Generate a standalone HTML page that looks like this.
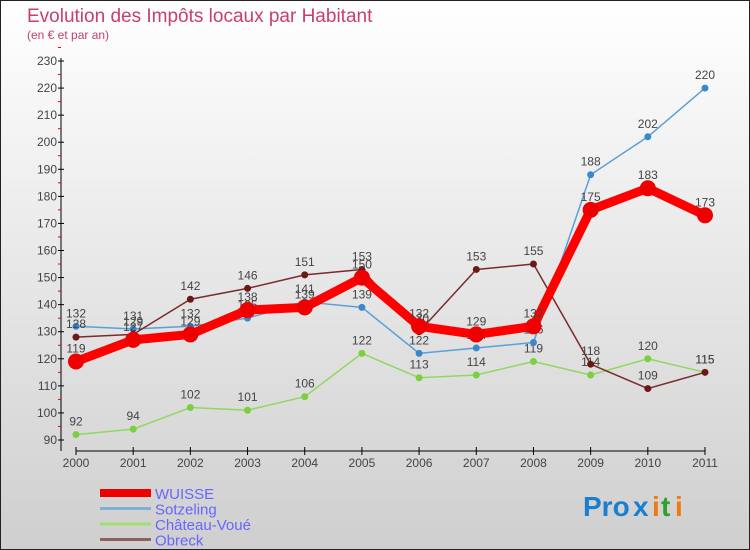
<!DOCTYPE html>
<html><head><meta charset="utf-8"><style>
body{margin:0;}
#c{width:750px;height:550px;position:relative;overflow:hidden;}
svg text{font-family:"Liberation Sans",sans-serif;}
</style></head><body>
<div id="c">
<svg id="s" width="750" height="550" xmlns="http://www.w3.org/2000/svg">
<defs><linearGradient id="bg" x1="0" y1="0" x2="0" y2="1"><stop offset="0" stop-color="#ffffff"/><stop offset="1" stop-color="#cfcfcf"/></linearGradient></defs>
<rect x="0.5" y="0.5" width="749" height="549" fill="url(#bg)" stroke="#222"/>
<text x="27" y="22" font-size="19" fill="#c8406a">Evolution des Impôts locaux par Habitant</text>
<text x="27" y="39" font-size="12" fill="#c8406a">(en € et par an)</text>
<g id="axes"></g>
<g id="series"></g>
<g id="legend"></g>
<g font-size="28" font-weight="bold">
<text x="583" y="516" fill="#1a7fd0">Pro</text><text x="633" y="516" fill="#1a7fd0">x</text><text x="652" y="516" fill="#f07a10">i</text><text x="661" y="516" fill="#30a030">t</text><text x="675" y="516" fill="#f07a10">i</text>
</g>
</svg>
</div>
<script>
const years=["2000","2001","2002","2003","2004","2005","2006","2007","2008","2009","2010","2011"];
const yTicks=[90,100,110,120,130,140,150,160,170,180,190,200,210,220,230];
const wuisse=[119,127,129,138,139,150,132,129,132,175,183,173];
const sotzeling=[132,131,132,135,141,139,122,124,126,188,202,220];
const chateau=[92,94,102,101,106,122,113,114,119,114,120,115];
const obreck=[128,129,142,146,151,153,130,153,155,118,109,115];
const NS="http://www.w3.org/2000/svg";
function X(i){return 76+i*(705-76)/11;}
function Y(v){return 440-(v-90)*(440-61)/140;}
function mk(tag,attrs,parent){const e=document.createElementNS(NS,tag);for(const k in attrs)e.setAttribute(k,attrs[k]);parent.appendChild(e);return e;}
const ax=document.getElementById('axes');
let yl=mk('line',{x1:61,y1:58,x2:61,y2:451,stroke:'#000'},ax);


yTicks.forEach(v=>{
 const t=mk('line',{x1:58,x2:64,y1:Y(v),y2:Y(v),stroke:'#000'},ax);
 
 
 const r=mk('line',{x1:58,x2:61,y1:Y(v+5),y2:Y(v+5),stroke:'#e00'},ax);
 
 
 const l=mk('text',{x:57,y:Y(v)+4,'font-size':12,fill:'#444','text-anchor':'end'},ax);
 l.textContent=v;
 
 
});
let xl=mk('line',{x1:76,y1:451,x2:705,y2:451,stroke:'#000'},ax);


years.forEach((y,i)=>{
 const t=mk('line',{x1:X(i),x2:X(i),y1:447,y2:455,stroke:'#000'},ax);
 
 
 const l=mk('text',{x:X(i),y:467,'font-size':12,fill:'#444','text-anchor':'middle'},ax);
 l.textContent=y;
 
 
});
const sg=document.getElementById('series');
const series=[
 {name:'chateau-voue',data:chateau,color:'#90d860',w:1.5,r:3.5,dot:'#7ccf40'},
 {name:'sotzeling',data:sotzeling,color:'#5aa0d8',w:1.5,r:3.5,dot:'#3a88cc'},
 {name:'obreck',data:obreck,color:'#7a2a2a',w:1.5,r:3.5,dot:'#6a1818'},
 {name:'wuisse',data:wuisse,color:'#ff0000',w:9,r:8,dot:'#ee0000'}
];
series.forEach(s=>{
 const g=mk('g',{},sg);
 
 
 const p=mk('polyline',{points:s.data.map((v,i)=>X(i)+','+Y(v)).join(' '),fill:'none',stroke:s.color,'stroke-width':s.w,'stroke-linejoin':'round'},g);
 
 
 s.data.forEach((v,i)=>{
  const c=mk('circle',{cx:X(i),cy:Y(v),r:s.r,fill:s.dot},g);
  
  
  const t=mk('text',{x:X(i),y:Y(v)-9,'font-size':12,fill:'#444','text-anchor':'middle'},g);
  t.textContent=v;
  
  
 });
});
const lg=document.getElementById('legend');
const leg=[['WUISSE','#ee0000',8],['Sotzeling','#80b0d8',3],['Château-Voué','#a0e070',3],['Obreck','#906060',3]];
leg.forEach((e,i)=>{
 const y=493+i*15.5;
 const l=mk('line',{x1:100,x2:151,y1:y,y2:y,stroke:e[1],'stroke-width':e[2]},lg);
 
 
 const t=mk('text',{x:155,y:y+6,'font-size':15,fill:'#6666ff'},lg);
 t.textContent=e[0];
 
 
});
</script>
</body></html>
